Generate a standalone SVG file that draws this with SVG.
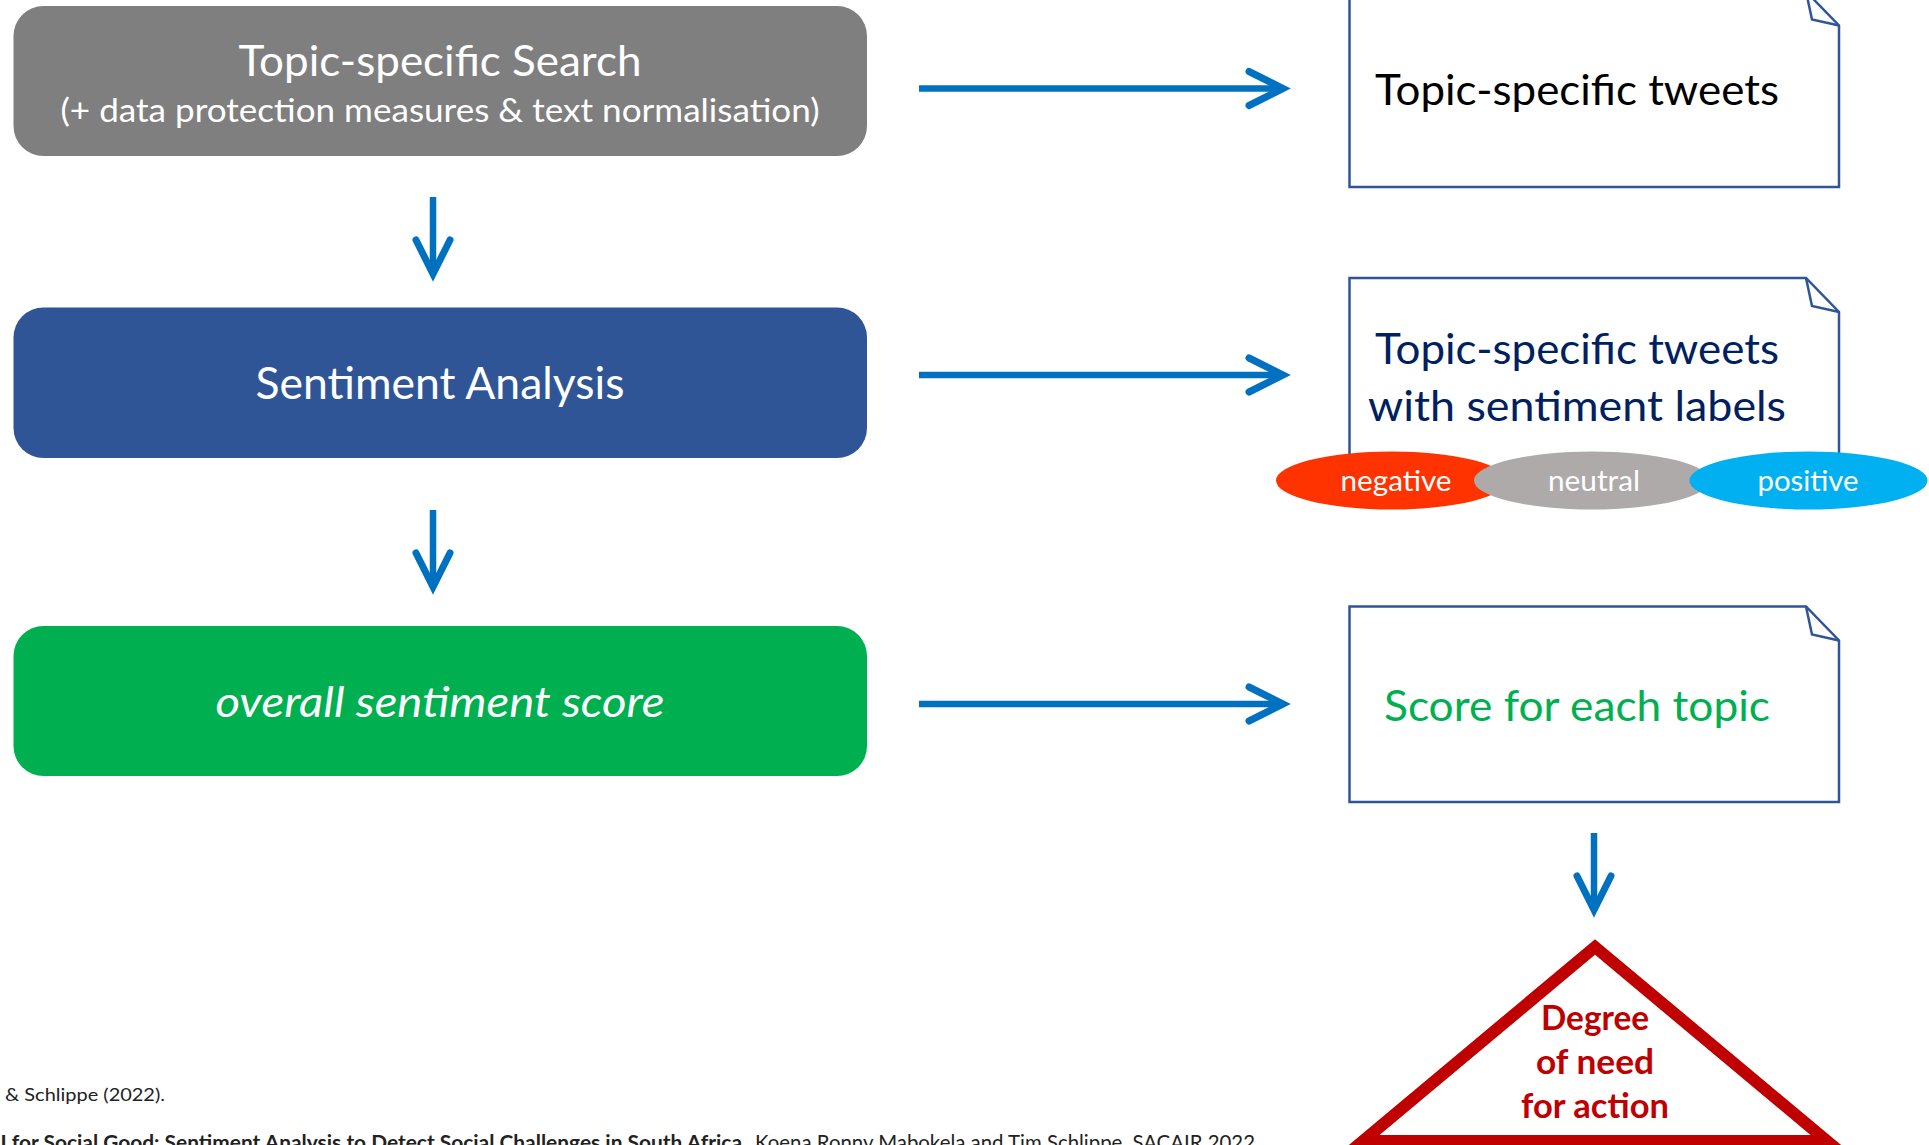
<svg xmlns="http://www.w3.org/2000/svg" width="1929" height="1145" viewBox="0 0 1929 1145">
  <defs>
    <marker id="chev" markerUnits="userSpaceOnUse" markerWidth="80" markerHeight="80" viewBox="-60 -40 80 80" refX="0" refY="0" orient="auto" overflow="visible">
      <path d="M-34,-17 L0,0 L-34,17" fill="none" stroke="#0070C0" stroke-width="7" stroke-linecap="round" stroke-linejoin="miter" stroke-miterlimit="10"/>
    </marker>
    <style>
      .lbl { font-family: Lato, "Liberation Sans", sans-serif; }
      .wt { fill: #ffffff; }
      .big { font-size: 43px; }
      .doc { fill: #ffffff; stroke: #2F5597; stroke-width: 2.5; }
      .fold { fill: none; stroke: #2F5597; stroke-width: 2.5; stroke-linejoin: miter; }
      .conn { fill: none; stroke: #0070C0; stroke-width: 6.5; marker-end: url(#chev); }
      .ell { font-size: 29px; }
      .cap { font-size: 21px; fill: #222222; }
    </style>
  </defs>

  <rect width="1929" height="1145" fill="#ffffff"/>

  <g id="search">
    <rect x="13.5" y="6" width="853.5" height="150" rx="30" ry="30" fill="#7F7F7F"/>
    <text class="lbl wt big" x="440" y="76" text-anchor="middle" textLength="403" lengthAdjust="spacingAndGlyphs">Topic-specific Search</text>
    <text class="lbl wt" x="440" y="122" text-anchor="middle" font-size="33.5" textLength="759" lengthAdjust="spacingAndGlyphs">(+ data protection measures &amp; text normalisation)</text>
  </g>

  <g id="sentiment-analysis">
    <rect x="13.5" y="307.5" width="853.5" height="150.5" rx="30" ry="30" fill="#2F5597"/>
    <text class="lbl wt" x="440" y="399" text-anchor="middle" font-size="43.5" textLength="369" lengthAdjust="spacingAndGlyphs">Sentiment Analysis</text>
  </g>

  <g id="overall-score">
    <rect x="13.5" y="626" width="853.5" height="150" rx="30" ry="30" fill="#00B050"/>
    <text class="lbl wt" x="440" y="717" text-anchor="middle" font-size="42.5" font-style="italic" textLength="449" lengthAdjust="spacingAndGlyphs">overall sentiment score</text>
  </g>

  <g id="doc-tweets">
    <path class="doc" d="M1349.5,-8.5 L1806,-8.5 L1839,25.5 L1839,187 L1349.5,187 Z"/>
    <path class="fold" d="M1806,-8.5 L1812,19.5 L1839,25.5"/>
    <text class="lbl big" x="1577" y="105" text-anchor="middle" fill="#000000" textLength="404" lengthAdjust="spacingAndGlyphs">Topic-specific tweets</text>
  </g>

  <g id="doc-labelled">
    <path class="doc" d="M1349.5,278 L1806,278 L1839,312 L1839,473.5 L1349.5,473.5 Z"/>
    <path class="fold" d="M1806,278 L1812,306 L1839,312"/>
    <text class="lbl big" x="1577" y="364" text-anchor="middle" fill="#002060" textLength="404" lengthAdjust="spacingAndGlyphs">Topic-specific tweets</text>
    <text class="lbl big" x="1577" y="421" text-anchor="middle" fill="#002060" textLength="418" lengthAdjust="spacingAndGlyphs">with sentiment labels</text>
  </g>

  <g id="label-negative">
    <ellipse cx="1391.5" cy="480.5" rx="115.5" ry="29" fill="#FF3300"/>
    <text class="lbl wt ell" x="1396" y="491" text-anchor="middle" textLength="111" lengthAdjust="spacingAndGlyphs">negative</text>
  </g>
  <g id="label-neutral">
    <ellipse cx="1592" cy="480.5" rx="118" ry="29" fill="#AEAAAA"/>
    <text class="lbl wt ell" x="1594" y="491" text-anchor="middle" textLength="92" lengthAdjust="spacingAndGlyphs">neutral</text>
  </g>
  <g id="label-positive">
    <ellipse cx="1808.5" cy="480.5" rx="119" ry="29" fill="#00B0F0"/>
    <text class="lbl wt ell" x="1808" y="491" text-anchor="middle" textLength="101" lengthAdjust="spacingAndGlyphs">positive</text>
  </g>

  <g id="doc-score">
    <path class="doc" d="M1349.5,606.5 L1806,606.5 L1839,640.5 L1839,802 L1349.5,802 Z"/>
    <path class="fold" d="M1806,606.5 L1812,634.5 L1839,640.5"/>
    <text class="lbl big" x="1577" y="721" text-anchor="middle" fill="#00B050" textLength="386" lengthAdjust="spacingAndGlyphs">Score for each topic</text>
  </g>

  <g id="need-for-action">
    <path d="M1595,947 L1827,1141 L1363,1141 Z" fill="#ffffff" stroke="#C00000" stroke-width="12" stroke-linejoin="miter"/>
    <text class="lbl" x="1595" y="1030" text-anchor="middle" font-size="33.5" font-weight="bold" fill="#C00000" textLength="108" lengthAdjust="spacingAndGlyphs">Degree</text>
    <text class="lbl" x="1595" y="1074" text-anchor="middle" font-size="33.5" font-weight="bold" fill="#C00000" textLength="118" lengthAdjust="spacingAndGlyphs">of need</text>
    <text class="lbl" x="1595" y="1118" text-anchor="middle" font-size="33.5" font-weight="bold" fill="#C00000" textLength="148" lengthAdjust="spacingAndGlyphs">for action</text>
  </g>

  <g id="connectors">
    <path class="conn" d="M919,88.5 L1283,88.5"/>
    <path class="conn" d="M919,375 L1283,375"/>
    <path class="conn" d="M919,704 L1283,704"/>
    <path class="conn" d="M433,197 L433,274"/>
    <path class="conn" d="M433,510 L433,587"/>
    <path class="conn" d="M1594,833 L1594,910"/>
  </g>

  <g id="caption">
    <text class="lbl" x="5" y="1101" font-size="18" fill="#222222" textLength="160" lengthAdjust="spacingAndGlyphs">&amp; Schlippe (2022).</text>
    <text class="lbl cap" x="-14" y="1150" font-weight="bold" textLength="761" lengthAdjust="spacingAndGlyphs">AI for Social Good: Sentiment Analysis to Detect Social Challenges in South Africa.</text>
    <text class="lbl cap" x="755" y="1150" textLength="500" lengthAdjust="spacingAndGlyphs">Koena Ronny Mabokela and Tim Schlippe. SACAIR 2022</text>
  </g>
</svg>
